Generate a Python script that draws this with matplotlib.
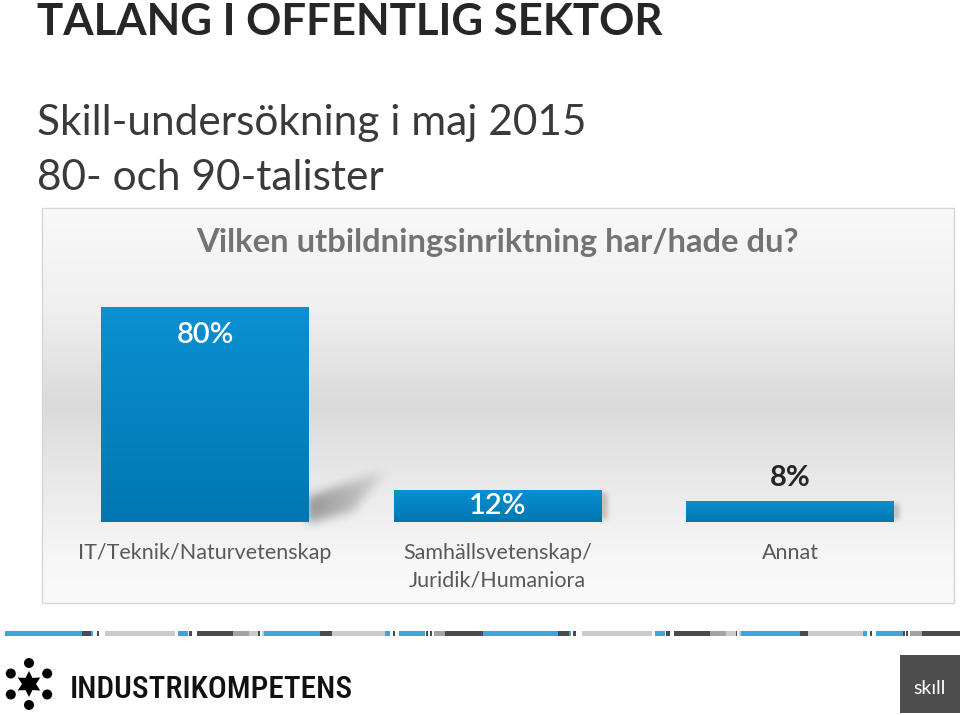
import matplotlib
matplotlib.use("Agg")
import matplotlib.pyplot as plt
import numpy as np
from matplotlib.colors import LinearSegmentedColormap
from matplotlib.patches import Rectangle, Polygon, Circle
from matplotlib.path import Path

# ── Data ──────────────────────────────────────────────────────────────
TITLE = "TALANG I OFFENTLIG SEKTOR"
SUBTITLE_1 = "Skill-undersökning i maj 2015"
SUBTITLE_2 = "80- och 90-talister"
QUESTION = "Vilken utbildningsinriktning har/hade du?"

categories = ["IT/Teknik/Naturvetenskap",
              "Samhällsvetenskap/\nJuridik/Humaniora",
              "Annat"]
shares = [80, 12, 8]          # percent
value_labels = ["80%", "12%", "8%"]

# footer stripe (pixel ranges, colour key)
stripe = [
    (5, 82, "b"), (82, 91, "d"), (91, 93, "b"), (97, 99, "d"), (105, 175, "l"),
    (178, 188, "b"), (189, 192, "d"), (197, 233, "d"), (233, 249, "m"),
    (249, 258, "l"), (258, 260, "d"), (262, 264, "l"), (264, 320, "b"),
    (320, 332, "d"), (332, 385, "l"), (385, 390, "b"), (393, 395, "d"),
    (399, 425, "b"), (426, 428, "d"), (430, 432, "d"), (434, 445, "m"),
    (445, 483, "d"), (483, 558, "b"), (558, 569, "d"), (569, 571, "b"),
    (573, 576, "d"), (582, 652, "l"), (655, 665, "b"), (666, 670, "d"),
    (674, 710, "d"), (710, 726, "m"), (726, 736, "l"), (736, 737, "d"),
    (739, 741, "l"), (741, 800, "b"), (800, 808, "d"), (808, 863, "l"),
    (863, 867, "b"), (870, 872, "d"), (876, 903, "b"), (903, 905, "d"),
    (906, 908, "d"), (910, 922, "m"), (922, 960, "d"),
]
STRIPE_COLORS = {"b": "#3ba5dc", "d": "#4b4b4b", "l": "#cacaca", "m": "#a3a3a3"}

W, H = 960, 715
BAR_TOP = "#0b90d2"
BAR_BOTTOM = "#0077b0"
FONT = ["Lato", "DejaVu Sans"]


def blurred_shadow(poly_px, pad=14, sigma=5.0, fade=0.0):
    """Soft shadow mask for a polygon given in pixel offsets (y up)."""
    pts = np.asarray(poly_px, float)
    x0, y0 = pts.min(axis=0) - pad
    x1, y1 = pts.max(axis=0) + pad
    gx, gy = np.meshgrid(np.arange(x0, x1), np.arange(y0, y1))
    mask = Path(pts).contains_points(np.c_[gx.ravel(), gy.ravel()]).reshape(gx.shape)
    m = mask.astype(float)
    if fade:
        span = pts[:, 0].max() - pts[:, 0].min()
        m *= np.clip(1 - fade * (gx - pts[:, 0].min()) / span, 0, 1)
    k = np.arange(-3 * sigma, 3 * sigma + 1)
    k = np.exp(-k ** 2 / (2 * sigma ** 2))
    k /= k.sum()
    m = np.apply_along_axis(lambda r: np.convolve(r, k, mode="same"), 1, m)
    m = np.apply_along_axis(lambda c: np.convolve(c, k, mode="same"), 0, m)
    return m, (x0, x1, y0, y1)


fig = plt.figure(figsize=(W / 100, H / 100), dpi=100)
fig.patch.set_facecolor("white")

# background axes in pixel units (y down)
bg = fig.add_axes([0, 0, 1, 1])
bg.axis("off")

# titles
bg.text(37, 35, TITLE, fontsize=31.5, fontweight="bold", color="#262626",
        family=FONT, va="baseline")
bg.text(37, 135, SUBTITLE_1, fontsize=30.5, color="#3a3a3a", family=FONT, va="baseline")
bg.text(37, 190, SUBTITLE_2, fontsize=30.5, color="#3a3a3a", family=FONT, va="baseline")

# chart box with soft vertical gradient
box = (42, 208, 954, 603)
ys = np.linspace(0, 1, 200)
stops = [0.0, 0.25, 0.5, 0.68, 0.88, 1.0]
greys = [0.975, 0.94, 0.855, 0.91, 0.965, 0.98]
col = np.interp(ys, stops, greys)
grad = np.repeat(col[:, None], 2, axis=1)
bg.imshow(np.dstack([grad] * 3), extent=(box[0], box[2], box[3], box[1]),
          aspect="auto", interpolation="bicubic", zorder=0)
bg.add_patch(Rectangle((box[0], box[1]), box[2] - box[0], box[3] - box[1],
                       fill=False, edgecolor="#d6d6d6", lw=1, zorder=1))
bg.set_xlim(0, W)
bg.set_ylim(H, 0)

bg.text(497, 252, QUESTION, fontsize=23.6, fontweight="bold", color="#737373",
        family=FONT, ha="center", va="baseline")

# footer stripe
for x0, x1, c in stripe:
    bg.add_patch(Rectangle((x0, 631), x1 - x0, 5, color=STRIPE_COLORS[c], lw=0))

# Industrikompetens logo
cx, cy = 29, 684
ang = np.deg2rad(np.arange(12) * 30 + 30)
rad = np.where(np.arange(12) % 2 == 0, 13, 7)
bg.add_patch(Polygon(np.c_[cx + rad * np.cos(ang), cy - rad * np.sin(ang)],
                     closed=True, color="black", lw=0))
for a in np.deg2rad([30, 90, 150, 210, 270, 330]):
    bg.add_patch(Circle((cx + 21 * np.cos(a), cy - 21 * np.sin(a)), 5, color="black", lw=0))
bg.text(70, 698, "INDUSTRIKOMPETENS", fontsize=22.6,
        family=["Roboto Condensed", "Liberation Sans Narrow", "DejaVu Sans"],
        fontweight="medium", color="#111111", va="baseline")

# skill logo
bg.add_patch(Rectangle((900, 655), 60, 58, color="#4d4d4d", lw=0))
bg.text(930, 688, "skıll", fontsize=14, color="white", family=FONT,
        ha="center", va="center")

# ── Bar chart ─────────────────────────────────────────────────────────
step_px = 292.75
unit_px = 2.6875           # pixels per percent
ymax = 90
left_px = 205 - 0.5 * step_px
bottom_px = 522
ax = fig.add_axes([left_px / W, (H - bottom_px) / H, 3 * step_px / W, ymax * unit_px / H])
ax.patch.set_alpha(0)
for s in ax.spines.values():
    s.set_visible(False)
ax.set_yticks([])

x = np.arange(len(categories))
width = 208 / step_px
bars = ax.bar(x, shares, width=width, color=BAR_BOTTOM, lw=0, zorder=3)

cmap = LinearSegmentedColormap.from_list("bar", [BAR_BOTTOM, BAR_TOP])
for rect, h in zip(bars, shares):
    x0, w = rect.get_x(), rect.get_width()
    im = ax.imshow(np.linspace(0, 1, 100)[:, None], cmap=cmap, origin="lower",
                   extent=(x0, x0 + w, 0, h), aspect="auto", zorder=4)
    im.set_clip_path(rect)
    xr = x0 + w
    hp = h * unit_px
    # soft cast shadow to the right of the bar (pixel offsets from bottom-right corner)
    if hp > 60:
        poly = [(-3, -2), (-3, 24), (76, 50), (44, 10)]
        m, (a0, a1, b0, b1) = blurred_shadow(poly, pad=16, sigma=5, fade=0.75)
        alpha = 0.38
    else:
        poly = [(-4, 1), (-4, hp - 3), (5, hp - 5), (5, 1)]
        m, (a0, a1, b0, b1) = blurred_shadow(poly, pad=8, sigma=2.5)
        alpha = 0.2
    rgba = np.zeros(m.shape + (4,))
    rgba[..., 3] = m * alpha
    sh = ax.imshow(rgba, origin="lower", aspect="auto", interpolation="bilinear",
                   extent=(xr + a0 / step_px, xr + a1 / step_px, b0 / unit_px, b1 / unit_px),
                   zorder=2)
    sh.set_clip_on(False)

ax.set_xlim(-0.5, 2.5)
ax.set_ylim(0, ymax)

for xi, h, lab in zip(x, shares, value_labels):
    hp = h * unit_px
    if hp > 28:
        off = -min(28, hp / 2)
        ax.annotate(lab, (xi, h), xytext=(0, off * 0.72), textcoords="offset points",
                    ha="center", va="center", fontsize=21, color="white",
                    family=FONT, fontweight="semibold", zorder=5)
    else:
        ax.annotate(lab, (xi, h), xytext=(0, 23 * 0.72), textcoords="offset points",
                    ha="center", va="center", fontsize=21, color="#262626",
                    family=FONT, fontweight="bold", zorder=5)

ax.set_xticks(x, categories)
ax.tick_params(axis="x", length=0, pad=15, labelsize=15.5, labelcolor="#595959")
for t in ax.get_xticklabels():
    t.set_family(FONT)
    t.set_linespacing(1.45)

fig.savefig("out.png", dpi=100)
